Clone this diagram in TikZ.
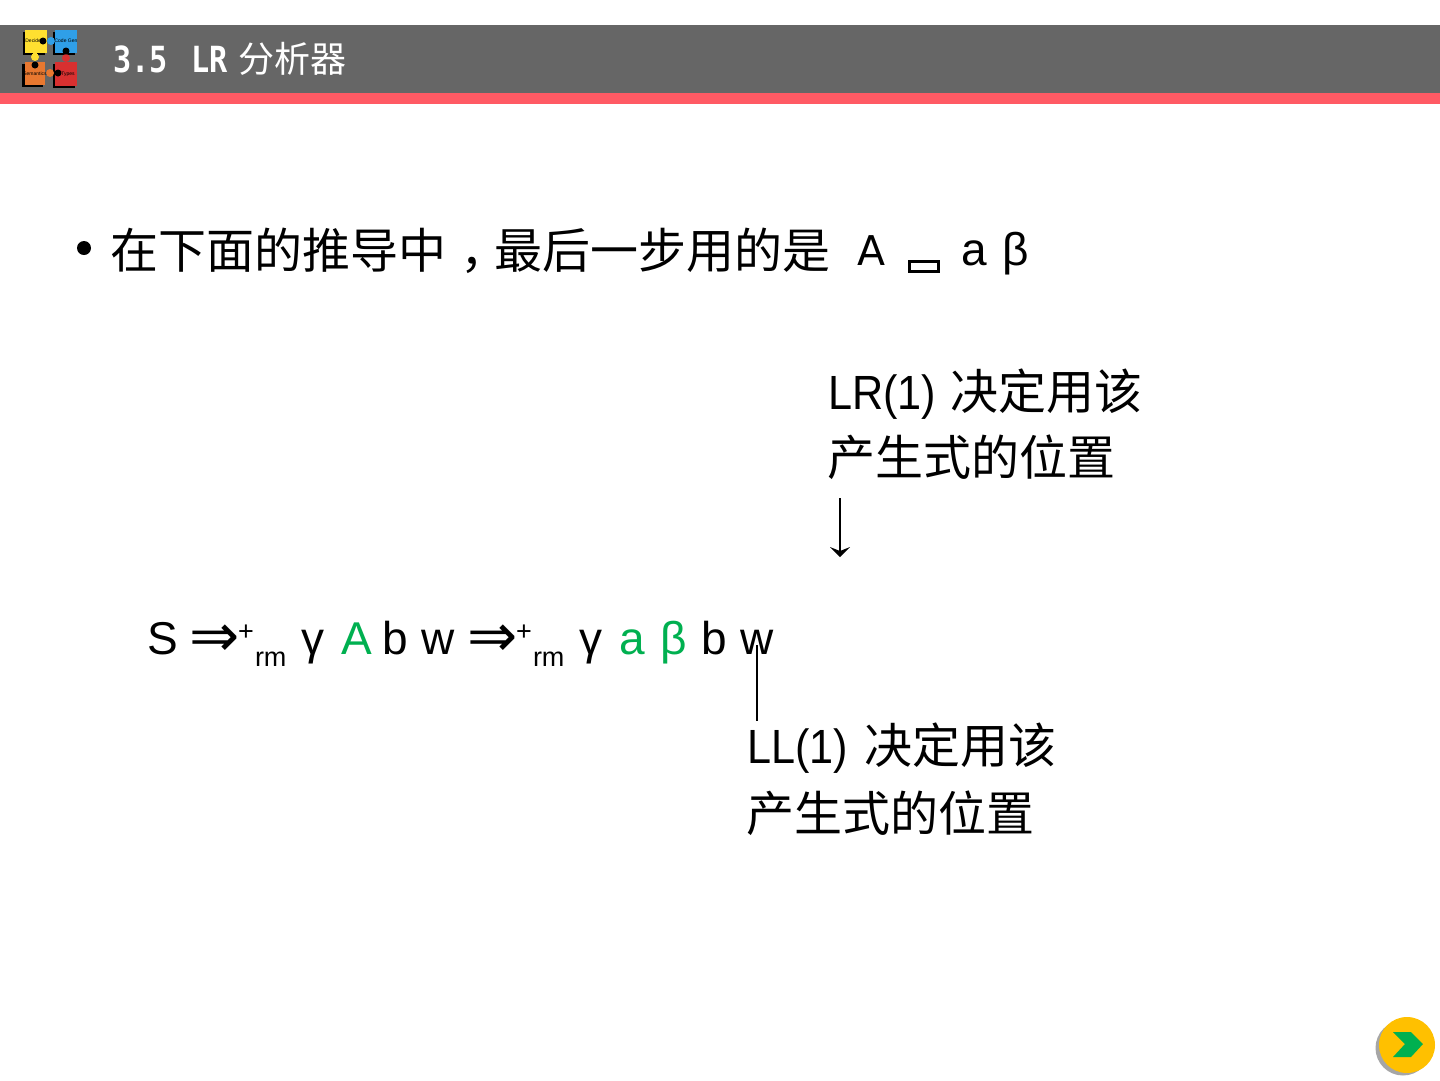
\documentclass[tikz,border=0pt]{standalone}
\usepackage{fontspec}
\setmainfont{Liberation Sans}
\newfontfamily\cjk{Noto Sans CJK SC}
\newfontfamily\monof[FakeStretch=0.84]{DejaVu Sans Mono}
\newfontfamily\dejav{DejaVu Sans}
\newfontfamily\narrowf[FakeStretch=0.9]{Liberation Sans}
\definecolor{headgray}{HTML}{666666}
\definecolor{headred}{HTML}{FF5A64}
\definecolor{tgreen}{HTML}{00B050}
\definecolor{btnyellow}{HTML}{FFC000}
\definecolor{btnshadow}{HTML}{A6A6A6}
\definecolor{pzyellow}{HTML}{FFE030}
\definecolor{pzblue}{HTML}{2F9FE8}
\definecolor{pzorange}{HTML}{E87830}
\definecolor{pzred}{HTML}{D83030}
\tikzset{
  txt/.style={anchor=base west,inner sep=0pt,outer sep=0pt,text=black},
  big/.style={txt,font=\fontsize{46}{56}\selectfont},
  arrowtxt/.style={txt,font=\fontsize{60}{62}\selectfont\dejav},
  cjktxt/.style={txt,font=\fontsize{48}{58}\selectfont\cjk},
  lbl/.style={txt,font=\fontsize{48}{58}\selectfont\narrowf},
  supm/.style={txt,font=\fontsize{27}{30}\selectfont},
  titletxt/.style={txt,text=white},
  titlemono/.style={titletxt,font=\fontsize{36}{40}\selectfont\monof\bfseries},
  pztxt/.style={anchor=center,inner sep=0pt,font=\fontsize{5}{5}\selectfont,text=black},
  conn/.style={draw=black,line width=1.8pt},
}
\begin{document}
\begin{tikzpicture}[x=1pt,y=-1pt]
\useasboundingbox (0,0) rectangle (1440,1080);
\fill[white] (0,0) rectangle (1440,1080);
% header
\fill[headgray] (0,25) rectangle (1440,93);
\fill[headred] (0,93) rectangle (1440,104);
% logo
\fill[black] (23,32) rectangle (45,55);
\fill[black] (53,32) rectangle (75,55);
\fill[black] (22,64) rectangle (43,87);
\fill[black] (53,64) rectangle (75,88);
\fill[pzyellow] (25,30) rectangle (47,53);
\fill[pzblue] (55,30) rectangle (77,53);
\fill[pzorange] (25,62) rectangle (45,85);
\fill[pzred] (55,62) rectangle (77,86);
\fill[pzyellow] (35,57) circle (4);
\fill[pzyellow] (33,52) rectangle (37,56);
\fill[pzblue] (51,41) circle (4);
\fill[pzred] (66,58) circle (4);
\fill[pzorange] (50,73) circle (4);
\fill[black] (43,41) circle (3.5);
\fill[black] (66,51) circle (3.5);
\fill[black] (35,65) circle (3.5);
\fill[black] (58,73) circle (3.5);
\node[pztxt] (p1) at (34,41) {Decider};
\node[pztxt] (p2) at (66,41) {Code Gen};
\node[pztxt] (p3) at (35,74) {Semantics};
\node[pztxt] (p4) at (68,74) {Types};
% title
\node[titlemono] (title) at (113,72) {3.5};
\node[titlemono] (titlelr) at (191,72) {LR};
\node[titletxt,font=\fontsize{36}{40}\selectfont\cjk] (titlecjk) at (238,72) {分析器};
% bullet line
\fill[black] (84,248) circle (7);
\node[cjktxt] (l1a) at (110,268) {在下面的推导中};
\node[cjktxt] (l1b) at (460,268) {，};
\node[cjktxt] (l1c) at (494,268) {最后一步用的是};
\node[txt,font=\fontsize{41}{50}\selectfont\dejav] (l1A) at (857,265) {A};
\draw[line width=3pt] (909,261) rectangle (938,271);
\node[big] (l1x) at (961,265) {a};
\node[big] (l1y) at (1002,265) {β};
% LR label
\node[lbl] (lr1) at (828,409) {LR(1)};
\node[cjktxt] (lr1c) at (950,409) {决定用该};
\node[cjktxt] (lr2) at (827,475) {产生式的位置};
% LL label
\node[lbl] (ll1) at (747,763) {LL(1)};
\node[cjktxt] (ll1c) at (864,763) {决定用该};
\node[cjktxt] (ll2) at (746,831) {产生式的位置};
% formula
\node[big] (S) at (147,654) {S};
\node[arrowtxt] (d1) at (189,656) {⇒};
\node[supm] (p1s) at (238,640) {+};
\node[supm] (r1) at (255,666) {rm};
\node[big] (g1) at (301,654) {γ};
\node[big,text=tgreen] (A1) at (341,654) {A};
\node[big] (b1) at (382,654) {b};
\node[big] (w1) at (421,654) {w};
\node[arrowtxt] (d2) at (467,656) {⇒};
\node[supm] (p2s) at (516,640) {+};
\node[supm] (r2) at (533,666) {rm};
\node[big] (g2) at (579,654) {γ};
\node[big,text=tgreen] (a2) at (619,654) {a};
\node[big,text=tgreen] (be) at (660,654) {β};
\node[big] (b2) at (701,654) {b};
\node[big] (w2) at (740,654) {w};
% connectors
\coordinate (lrtop) at (840,498);
\coordinate (lrend) at (840,557);
\coordinate (lltop) at (757,645);
\coordinate (llend) at (757,721);
\draw[conn] (lrtop) -- (840,552);
\fill[black] (lrend) -- (830,547) -- (840,551) -- (850,547) -- cycle;
\draw[conn] (lltop) -- (llend);
% next button
\fill[btnshadow] (1403,1048) circle (27.5);
\fill[btnyellow] (1407,1045) circle (28);
\fill[tgreen] (1393,1032) -- (1411,1032) -- (1423,1044) -- (1411,1057) -- (1393,1057) -- (1405,1044) -- cycle;
\end{tikzpicture}
\end{document}
